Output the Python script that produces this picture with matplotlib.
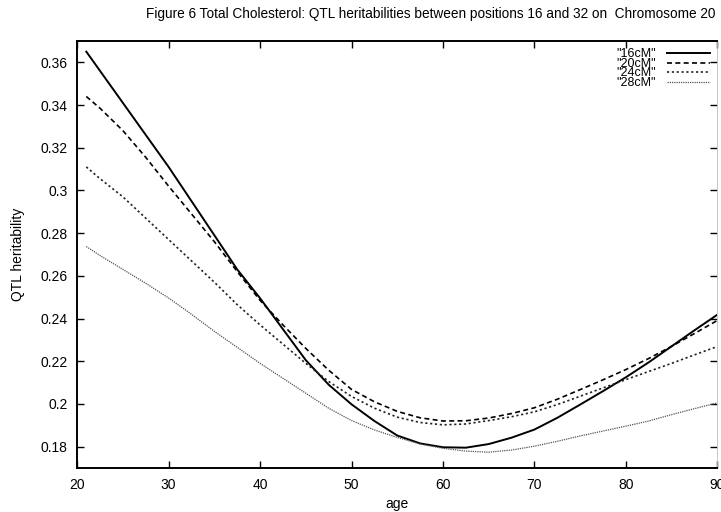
import matplotlib
matplotlib.use("Agg")
import matplotlib.pyplot as plt

plt.rcParams['font.family'] = ['Liberation Sans', 'DejaVu Sans']

age = [21, 22.5, 25, 27.5, 30, 32.5, 35, 37.5, 40, 42.5, 45, 47.5, 50, 52.5, 55,
       57.5, 60, 62.5, 65, 67.5, 70, 72.5, 75, 77.5, 80, 82.5, 85, 87.5, 90]
h16 = [0.365, 0.356, 0.341, 0.326, 0.311, 0.295, 0.279, 0.263, 0.2495, 0.235, 0.2205,
       0.209, 0.1998, 0.192, 0.1852, 0.1815, 0.1797, 0.1795, 0.1812, 0.1842, 0.188,
       0.1935, 0.1997, 0.206, 0.2125, 0.2195, 0.227, 0.2345, 0.2418]
h20 = [0.344, 0.3385, 0.328, 0.3155, 0.302, 0.289, 0.276, 0.262, 0.2485, 0.237, 0.226,
       0.2158, 0.2068, 0.201, 0.1965, 0.1935, 0.192, 0.1921, 0.1934, 0.1955, 0.1982,
       0.2022, 0.2067, 0.2113, 0.2161, 0.2213, 0.227, 0.233, 0.2391]
h24 = [0.311, 0.3055, 0.297, 0.287, 0.277, 0.267, 0.257, 0.2465, 0.237, 0.228, 0.219,
       0.2105, 0.2035, 0.198, 0.1938, 0.1913, 0.1902, 0.1906, 0.1922, 0.194, 0.1963,
       0.1997, 0.2036, 0.2075, 0.2114, 0.2152, 0.219, 0.223, 0.2269]
h28 = [0.2737, 0.2695, 0.263, 0.2565, 0.2496, 0.242, 0.234, 0.2265, 0.219, 0.212, 0.205,
       0.198, 0.1922, 0.1878, 0.1843, 0.1812, 0.1792, 0.1779, 0.1774, 0.1784, 0.1802,
       0.1825, 0.185, 0.1873, 0.1896, 0.192, 0.195, 0.1978, 0.2005]

labels = ['"16cM"', '"20cM"', '"24cM"', '"28cM"']
xticks = [20, 30, 40, 50, 60, 70, 80, 90]
yticks = [0.18, 0.2, 0.22, 0.24, 0.26, 0.28, 0.3, 0.32, 0.34, 0.36]
ytick_labels = ['0.18', '0.2', '0.22', '0.24', '0.26', '0.28', '0.3', '0.32', '0.34', '0.36']

fig = plt.figure(figsize=(7.21, 5.12), dpi=100)
ax = fig.add_axes([0.107, 0.086, 0.888, 0.834])

ax.plot(age, h16, color='black', lw=1.4, ls='-', label=labels[0])
ax.plot(age, h20, color='black', lw=1.2, ls=(0, (3, 2)), label=labels[1])
ax.plot(age, h24, color='#222222', lw=1.2, ls=(0, (1.3, 1.6)), label=labels[2])
ax.plot(age, h28, color='#555555', lw=0.9, ls=(0, (1, 0.8)), label=labels[3])

ax.set_xlim(20, 90)
ax.set_ylim(0.17, 0.37)
ax.set_xticks(xticks)
ax.set_yticks(yticks)
ax.set_yticklabels(ytick_labels)
ax.tick_params(direction='in', length=5, width=1, top=True, right=True,
               labelsize=10, pad=7)
for s in ['left', 'bottom', 'top']:
    ax.spines[s].set_linewidth(1.4)
ax.spines['right'].set_linewidth(0.6)
ax.spines['right'].set_color('#bbbbbb')

ax.set_xlabel('age', fontsize=10, labelpad=4)
ax.set_ylabel('QTL heritability', fontsize=10, labelpad=11)
fig.text(0.597, 0.972, 'Figure 6 Total Cholesterol: QTL heritabilities between positions 16 and 32 on  Chromosome 20',
         ha='center', va='center', fontsize=9.8)

leg = ax.legend(loc='upper right', frameon=False, markerfirst=False,
                fontsize=9, labelspacing=-0.2, handlelength=3.4,
                handletextpad=0.9, borderaxespad=0.1, borderpad=0.5)

fig.savefig('out.png', dpi=100)
